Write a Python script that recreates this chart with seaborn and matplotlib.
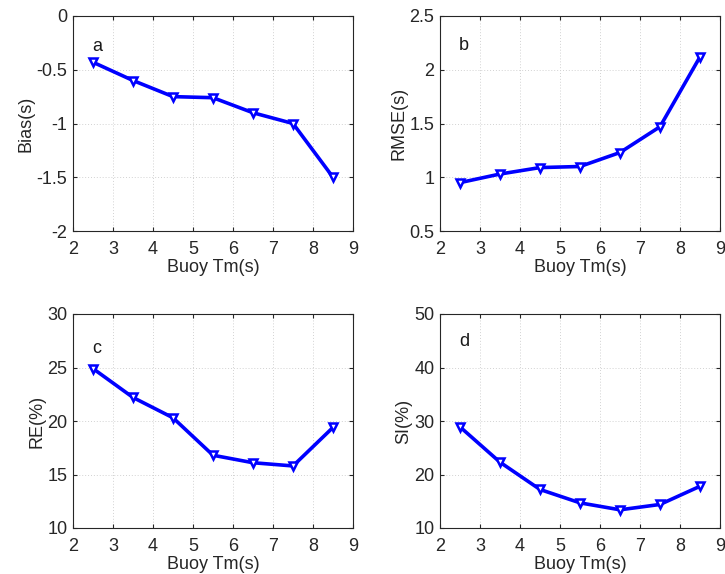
import matplotlib
matplotlib.use("Agg")
import matplotlib.pyplot as plt
import seaborn as sns
import pandas as pd

# Buoy mean wave period bins (s)
tm_bins = [2.5, 3.5, 4.5, 5.5, 6.5, 7.5, 8.5]

bias = [-0.43, -0.60, -0.75, -0.76, -0.90, -1.00, -1.50]
rmse = [0.95, 1.03, 1.09, 1.10, 1.23, 1.47, 2.12]
re_pct = [24.9, 22.2, 20.3, 16.8, 16.1, 15.8, 19.4]
si_pct = [28.9, 22.3, 17.2, 14.7, 13.4, 14.4, 17.8]

ylabels = ["Bias(s)", "RMSE(s)", "RE(%)", "SI(%)"]
panel_tags = ["a", "b", "c", "d"]
ylims = [(-2, 0), (0.5, 2.5), (10, 30), (10, 50)]
yticks = [[-2, -1.5, -1, -0.5, 0], [0.5, 1, 1.5, 2, 2.5],
          [10, 15, 20, 25, 30], [10, 20, 30, 40, 50]]
ytick_labels = [["-2", "-1.5", "-1", "-0.5", "0"], ["0.5", "1", "1.5", "2", "2.5"],
                ["10", "15", "20", "25", "30"], ["10", "20", "30", "40", "50"]]
tag_y = [-0.28, 2.23, 26.8, 44.8]

sns.set_theme(style="white")
plt.rcParams["font.family"] = ["Liberation Sans", "DejaVu Sans"]

fig = plt.figure(figsize=(7.25, 5.74), dpi=100)
W, H = 725, 574
boxes = [(73, 16, 353, 231), (440, 16, 720, 231),
         (73, 314, 353, 528), (440, 314, 720, 528)]

series = [bias, rmse, re_pct, si_pct]
for i, (x0, y0, x1, y1) in enumerate(boxes):
    ax = fig.add_axes([x0 / W, 1 - y1 / H, (x1 - x0) / W, (y1 - y0) / H])
    df = pd.DataFrame({"Tm": tm_bins, "val": series[i]})
    sns.lineplot(data=df, x="Tm", y="val", ax=ax, color="#0000ff",
                 linewidth=2.6, marker="v", markersize=5.5,
                 markerfacecolor="white", markeredgecolor="#0000ff",
                 markeredgewidth=1.8)
    ax.set_xlim(2, 9)
    ax.set_ylim(*ylims[i])
    ax.set_xticks(range(2, 10))
    ax.set_yticks(yticks[i])
    ax.set_yticklabels(ytick_labels[i])
    ax.grid(True, linestyle=(0, (1, 2)), color="#d2d2d2", linewidth=0.7)
    ax.tick_params(direction="in", length=3, width=0.8, labelsize=13,
                   colors="#262626", top=True, right=True,
                   bottom=True, left=True, labeltop=False, labelright=False)
    ax.tick_params(axis="x", pad=7.5)
    ax.tick_params(axis="y", pad=4)
    for s in ax.spines.values():
        s.set_color("#262626")
        s.set_linewidth(0.8)
    ax.set_xlabel("Buoy Tm(s)", fontsize=13, color="#262626", labelpad=0.5)
    ax.set_ylabel(ylabels[i], fontsize=13, color="#262626", labelpad=1.5)
    ax.text(2.6, tag_y[i], panel_tags[i], fontsize=13, color="#1a1a1a",
            ha="center", va="center")

fig.savefig("out.png", dpi=100, facecolor="white")
